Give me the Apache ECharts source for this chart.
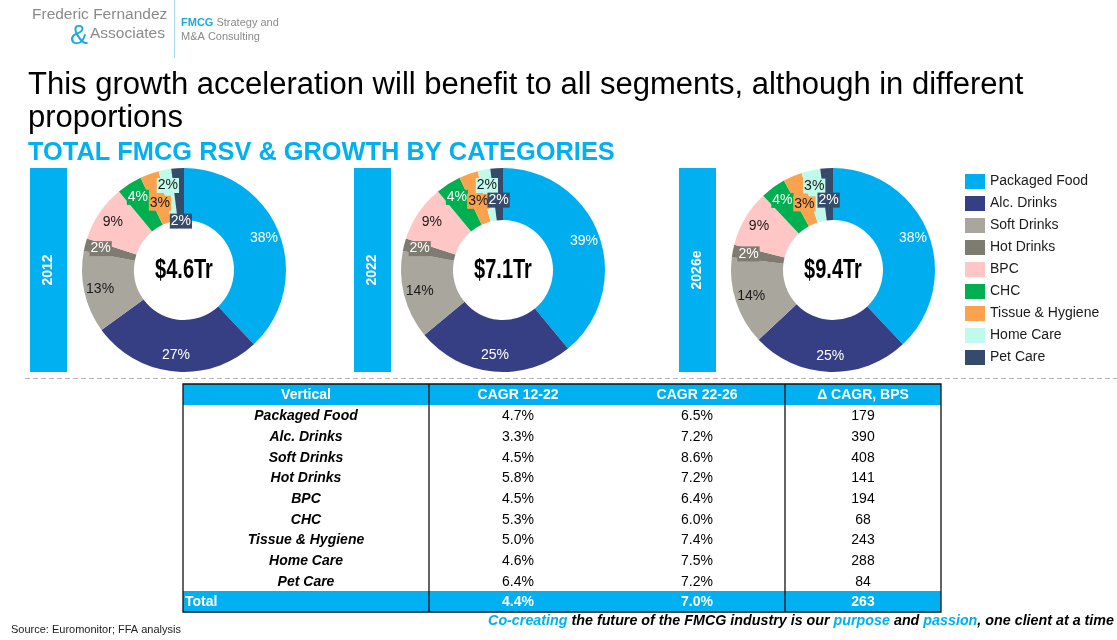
<!DOCTYPE html>
<html>
<head>
<meta charset="utf-8">
<script src="https://cdn.jsdelivr.net/npm/echarts@6/dist/echarts.min.js"></script>
<style>
html, body { margin: 0; padding: 0; background: #fff; }
#main { width: 1117px; height: 640px; }
</style>
</head>
<body>
<div id="main"></div>
<script>
// segment shares (%) per year
var categories = ['Packaged Food', 'Alc. Drinks', 'Soft Drinks', 'Hot Drinks', 'BPC', 'CHC', 'Tissue & Hygiene', 'Home Care', 'Pet Care'];
var years = ['2012', '2022', '2026e'];
var totalRsv = ['$4.6Tr', '$7.1Tr', '$9.4Tr'];
var share2012 = [38, 27, 13, 2, 9, 4, 3, 2, 2];
var share2022 = [39, 25, 14, 2, 9, 4, 3, 2, 2];
var share2026 = [38, 25, 14, 2, 9, 4, 3, 3, 2];

// table
var tableHeader = ['Vertical', 'CAGR 12-22', 'CAGR 22-26', '\u0394 CAGR, BPS'];
var cagr1222 = [4.7, 3.3, 4.5, 5.8, 4.5, 5.3, 5.0, 4.6, 6.4];
var cagr2226 = [6.5, 7.2, 8.6, 7.2, 6.4, 6.0, 7.4, 7.5, 7.2];
var deltaBps = [179, 390, 408, 141, 194, 68, 243, 288, 84];
var totalRow = ['Total', 4.4, 7.0, 263];

var FONT = "'Liberation Sans', Arial, sans-serif";
var BLUE = '#00B0F0';
var segColors = ['#00AEEF', '#373F84', '#A9A69D', '#7E7C70', '#FFC6C6', '#00B050', '#FBA24E', '#BFFAEA', '#354B6C'];
var labelText = ['#fff', '#fff', '#1a1a1a', '#fff', '#1a1a1a', '#fff', '#1a1a1a', '#1a1a1a', '#fff'];
var boxed = [false, false, false, true, false, true, true, true, true];

var shares = [share2012, share2022, share2026];
var pieCenters = [[184, 270], [503, 270], [833, 270]];
var yearBarX = [30, 354, 679];
// label distance from centre, default 86, some pulled in like the original
var labelRadius = [{6: 71, 8: 49}, {6: 73, 8: 70}, {6: 72, 8: 70}];

var series = shares.map(function (vals, s) {
    var c = pieCenters[s];
    return {
        type: 'pie',
        name: years[s],
        radius: [50, 102],
        center: c,
        startAngle: 90,
        silent: true,
        animation: false,
        label: {
            show: true,
            position: 'inside',
            fontFamily: FONT,
            fontSize: 14,
            formatter: function (p) { return p.value + '%'; }
        },
        labelLine: { show: false },
        labelLayout: function (p) {
            var r = p.labelRect;
            var lx = r.x + r.width / 2, ly = r.y + r.height / 2;
            var dx = lx - c[0], dy = ly - c[1];
            var d = Math.sqrt(dx * dx + dy * dy) || 1;
            var target = labelRadius[s][p.dataIndex] || 86;
            return { dx: dx / d * (target - d), dy: dy / d * (target - d) };
        },
        data: categories.map(function (name, i) {
            return {
                name: name,
                value: vals[i],
                itemStyle: { color: segColors[i] },
                label: {
                    color: labelText[i],
                    backgroundColor: boxed[i] ? segColors[i] : 'transparent',
                    padding: boxed[i] ? [1, 1, 0, 1] : 0
                }
            };
        })
    };
});

var g = [];

// logo
g.push({ type: 'text', left: 32, top: 7, style: { text: 'Frederic Fernandez', font: '15.5px ' + FONT, fill: '#8a8a8a' } });
g.push({ type: 'text', left: 70, top: 23, style: { text: '&', font: '27px ' + FONT, fill: '#1fa8e0' } });
g.push({ type: 'text', left: 90, top: 26, style: { text: 'Associates', font: '15.5px ' + FONT, fill: '#8a8a8a' } });
g.push({ type: 'line', shape: { x1: 174.5, y1: 0, x2: 174.5, y2: 58 }, style: { stroke: '#a6d9f2', lineWidth: 1 } });
g.push({ type: 'text', left: 181, top: 16, style: {
    text: '{b|FMCG} Strategy and\nM&A Consulting', font: '11px ' + FONT, fill: '#8a8a8a', lineHeight: 14,
    rich: { b: { font: 'bold 11px ' + FONT, fill: '#1fa8e0' } }
} });

// titles
g.push({ type: 'text', left: 28, top: 69, style: {
    text: 'This growth acceleration will benefit to all segments, although in different\nproportions',
    font: '31px ' + FONT, fill: '#000', lineHeight: 33
} });
g.push({ type: 'text', left: 28, top: 140, style: {
    text: 'TOTAL FMCG RSV & GROWTH BY CATEGORIES', font: 'bold 25.4px ' + FONT, fill: BLUE
} });

// year bars and centre values
years.forEach(function (y, s) {
    g.push({ type: 'rect', shape: { x: yearBarX[s], y: 168, width: 37, height: 204 }, style: { fill: BLUE } });
    g.push({ type: 'text', x: yearBarX[s] + 18.5, y: 270, rotation: Math.PI / 2, style: {
        text: y, font: 'bold 14px ' + FONT, fill: '#fff', align: 'center', verticalAlign: 'middle'
    } });
    g.push({ type: 'text', x: pieCenters[s][0], y: pieCenters[s][1] + 1, scaleX: 0.74, z: 10, style: {
        text: totalRsv[s], font: 'bold 27px ' + FONT,
        fill: '#000', align: 'center', verticalAlign: 'middle'
    } });
});

// dashed separator
g.push({ type: 'line', shape: { x1: 25, y1: 378.5, x2: 1117, y2: 378.5 }, style: { stroke: '#b4b4b4', lineWidth: 1, lineDash: [5, 3] } });

// table
var tx = 183, tw = 758, ty = 384, hh = 21, rh = 20.67;
var colCx = [306, 518, 697, 863];
var bodyTop = ty + hh;
var totalTop = bodyTop + rh * categories.length;
g.push({ type: 'rect', shape: { x: tx, y: ty, width: tw, height: hh }, style: { fill: BLUE } });
g.push({ type: 'rect', shape: { x: tx, y: totalTop, width: tw, height: 612 - totalTop }, style: { fill: BLUE } });
tableHeader.forEach(function (h, j) {
    g.push({ type: 'text', x: colCx[j], y: ty + hh / 2 + 1, style: {
        text: h, font: 'bold 14px ' + FONT, fill: '#fff', align: 'center', verticalAlign: 'middle'
    } });
});
categories.forEach(function (name, i) {
    var cy = bodyTop + rh * (i + 0.5) + 1;
    var cells = [name, cagr1222[i].toFixed(1) + '%', cagr2226[i].toFixed(1) + '%', String(deltaBps[i])];
    cells.forEach(function (t, j) {
        g.push({ type: 'text', x: colCx[j], y: cy, style: {
            text: t, font: (j === 0 ? 'italic bold ' : '') + '14px ' + FONT, fill: '#000', align: 'center', verticalAlign: 'middle'
        } });
    });
});
var tcy = (totalTop + 612) / 2 + 1;
g.push({ type: 'text', x: tx + 2, y: tcy, style: { text: totalRow[0], font: 'bold 14px ' + FONT, fill: '#fff', verticalAlign: 'middle' } });
[totalRow[1].toFixed(1) + '%', totalRow[2].toFixed(1) + '%', String(totalRow[3])].forEach(function (t, k) {
    g.push({ type: 'text', x: colCx[k + 1], y: tcy, style: { text: t, font: 'bold 14px ' + FONT, fill: '#fff', align: 'center', verticalAlign: 'middle' } });
});
g.push({ type: 'rect', z: 5, shape: { x: tx, y: ty, width: tw, height: 612 - ty }, style: { fill: null, stroke: '#111', lineWidth: 1.3 } });
[429, 785].forEach(function (x) {
    g.push({ type: 'line', z: 5, shape: { x1: x, y1: ty, x2: x, y2: 612 }, style: { stroke: '#111', lineWidth: 1.3 } });
});

// footer
g.push({ type: 'text', left: 11, top: 624, style: { text: 'Source: Euromonitor; FFA analysis', font: '11px ' + FONT, fill: '#222' } });
g.push({ type: 'text', x: 1114, y: 621, style: {
    text: '{b|Co-creating} the future of the FMCG industry is our {b|purpose} and {b|passion}, one client at a time',
    font: 'italic bold 14.3px ' + FONT, fill: '#000', align: 'right', verticalAlign: 'middle',
    rich: { b: { font: 'italic bold 14.3px ' + FONT, fill: BLUE } }
} });

var chart = echarts.init(document.getElementById('main'));
chart.setOption({
    backgroundColor: '#fff',
    animation: false,
    legend: {
        orient: 'vertical',
        left: 965,
        top: 174,
        padding: 0,
        icon: 'rect',
        itemWidth: 20,
        itemHeight: 15,
        itemGap: 7,
        selectedMode: false,
        data: categories,
        textStyle: { fontFamily: FONT, fontSize: 14, color: '#1a1a1a' }
    },
    series: series,
    graphic: g
});
</script>
</body>
</html>
